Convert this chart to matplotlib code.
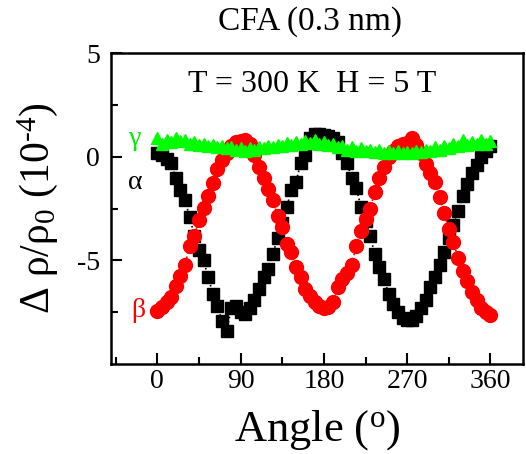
import matplotlib.pyplot as plt

plt.rcParams['font.family'] = ['Liberation Serif', 'DejaVu Serif']
plt.rcParams['mathtext.fontset'] = 'custom'
plt.rcParams['mathtext.rm'] = 'Liberation Serif'
plt.rcParams['mathtext.it'] = 'Liberation Serif:italic'
plt.rcParams['axes.unicode_minus'] = False

angle = list(range(0, 361, 5))

alpha = [0.2, 0.1, -0.1, -0.3, -1.0, -1.6, -2.1, -2.9, -3.8, -4.5,
         -5.0, -5.8, -6.6, -7.2, -7.9, -8.4, -7.3, -7.2, -7.5, -7.6,
         -7.3, -6.9, -6.4, -5.8, -5.4, -4.7, -3.9, -3.2, -2.4, -1.6,
         -1.2, -0.3, 0.1, 0.9, 1.1, 1.1, 1.05, 1.0, 0.9, 0.7,
         0.2, -0.3, -1.0, -1.5, -2.4, -3.1, -3.8, -4.7, -5.3, -5.9,
         -6.6, -7.1, -7.5, -7.8, -7.85, -7.85, -7.7, -7.3, -6.9, -6.3,
         -5.8, -5.2, -4.6, -3.9, -3.3, -2.6, -1.9, -1.3, -0.8, -0.4,
         0.0, 0.3, 0.5]

beta = [-7.45, -7.25, -7.0, -6.75, -6.25, -5.75, -5.2, -4.3, -3.8, -3.05,
        -2.45, -1.9, -1.25, -0.6, -0.15, 0.2, 0.5, 0.7, 0.75, 0.8,
        0.6, 0.1, -0.5, -1.0, -1.55, -2.1, -2.85, -3.4, -4.2, -4.6,
        -5.3, -5.8, -6.4, -6.7, -7.0, -7.2, -7.3, -7.25, -7.0, -6.3,
        -5.9, -5.6, -5.2, -4.3, -3.6, -3.0, -2.5, -1.7, -1.0, -0.5,
        0.0, 0.3, 0.5, 0.6, 0.65, 0.9, 0.55, 0.2, -0.35, -0.8,
        -1.2, -1.95, -2.7, -3.5, -4.1, -4.9, -5.5, -6.0, -6.5, -6.9,
        -7.3, -7.5, -7.65]

gamma = [0.9, 0.6, 0.8, 0.7, 0.9, 0.75, 0.8, 0.6, 0.7, 0.55,
         0.6, 0.5, 0.55, 0.45, 0.5, 0.4, 0.45, 0.35, 0.4, 0.3,
         0.4, 0.35, 0.45, 0.4, 0.5, 0.45, 0.55, 0.5, 0.65, 0.55,
         0.7, 0.6, 0.75, 0.65, 0.8, 0.6, 0.7, 0.55, 0.6, 0.45,
         0.5, 0.35, 0.45, 0.3, 0.4, 0.3, 0.35, 0.25, 0.35, 0.2,
         0.3, 0.2, 0.3, 0.2, 0.25, 0.2, 0.3, 0.25, 0.35, 0.3,
         0.45, 0.35, 0.5, 0.4, 0.6, 0.5, 0.8, 0.55, 0.7, 0.6,
         0.8, 0.6, 0.75]

fig = plt.figure(figsize=(5.26, 4.54), dpi=100)
ax = fig.add_axes([0.211, 0.198, 0.783, 0.685])

ax.plot(angle, alpha, color='black', marker='s', markersize=8.5, linestyle=':', linewidth=1.2)
ax.plot(angle, beta, color='red', marker='o', markersize=10, linestyle=':', linewidth=1.2)
ax.plot(angle, gamma, color='#00ff00', marker='^', markersize=9, linestyle='none')

ax.set_xlim(-50, 395)
ax.set_ylim(-10, 5)
ax.set_xticks([0, 90, 180, 270, 360])
ax.set_xticks([-45, 45, 135, 225, 315], minor=True)
ax.set_yticks([-5, 0, 5])
ax.set_yticks([-7.5, -2.5, 2.5], minor=True)
ax.tick_params(which='both', direction='in', width=1.5, labelsize=20)
ax.tick_params(which='major', length=8)
ax.tick_params(which='minor', length=5)
ax.tick_params(axis='y', pad=8)
for s in ax.spines.values():
    s.set_linewidth(1.8)

ax.text(-24, 0.9, 'γ', color='#00ee00', fontsize=20, ha='center', va='center')
ax.text(-24, -1.25, 'α', color='black', fontsize=20, ha='center', va='center')
ax.text(-21, -7.4, 'β', color='red', fontsize=20, ha='center', va='center')
ax.text(0.488, 0.9, 'T = 300 K  H = 5 T', transform=ax.transAxes, fontsize=23,
        ha='center', va='center')

ax.set_xlabel('Angle ($^{\\mathrm{o}}$)', fontsize=32, labelpad=10)
ax.set_ylabel('Δ ρ/ρ$_{\\mathrm{0}}$ (10$^{\\text{-}\\mathrm{4}}$)', fontsize=30, labelpad=12)
fig.text(0.59, 0.952, 'CFA (0.3 nm)', fontsize=24, ha='center', va='center')

fig.savefig('out.png', dpi=100)
